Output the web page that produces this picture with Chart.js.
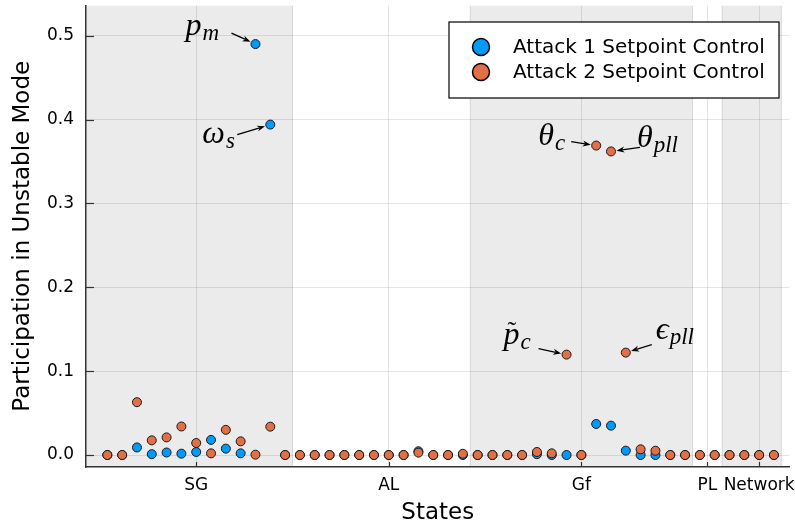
<!DOCTYPE html>
<html>
<head>
<meta charset="utf-8">
<script src="https://cdn.jsdelivr.net/npm/chart.js@4"></script>
<style>
  html, body { margin: 0; padding: 0; background: #fff; }
  #wrap { width: 795px; height: 527px; }
</style>
</head>
<body>
<div id="wrap"><canvas id="chart"></canvas></div>
<script>
// state groups along the x axis
const groupNames = ["SG", "AL", "Gf", "PL", "Network"];
const groupSizes = [13, 12, 15, 2, 4];
const groupTickPos = [7, 20, 33, 41.5, 45];
const shadedGroups = ["SG", "Gf", "Network"];

const yTicks = [0, 0.1, 0.2, 0.3, 0.4, 0.5];

// participation factor of each state (46 states)
const attack1 = [
  0, 0, 0.009, 0.001, 0.003, 0.0016, 0.0036, 0.018, 0.0076, 0.002, 0.490, 0.394, 0,
  0, 0, 0, 0, 0, 0, 0, 0, 0.0045, 0, 0, 0,
  0, 0, 0, 0, 0.001, 0, 0, 0, 0.037, 0.035, 0.0052, 0, 0, 0, 0,
  0, 0,
  0, 0, 0, 0
];
const attack2 = [
  0, 0, 0.063, 0.0175, 0.021, 0.034, 0.0143, 0.002, 0.030, 0.0163, 0.0004, 0.0338, 0,
  0, 0, 0, 0, 0, 0, 0, 0, 0.0028, 0, 0, 0.0015,
  0, 0, 0, 0, 0.0036, 0.002, 0.1197, 0, 0.369, 0.362, 0.1221, 0.0068, 0.0051, 0, 0,
  0, 0,
  0, 0, 0, 0
];

const seriesNames = ["Attack 1 Setpoint Control", "Attack 2 Setpoint Control"];
const seriesColors = ["#009AFA", "#E36F47"];

// labels pointing at single states: [series, state number, symbol, subscript]
const notes = [
  { series: 0, state: 11, main: "p", sub: "m", tx: -70, ty: -9, ax: -24, ay: -11 },
  { series: 0, state: 12, main: "ω", sub: "s", tx: -68, ty: 18, ax: -33, ay: 10 },
  { series: 1, state: 34, main: "θ", sub: "c", tx: -58, ty: -1, ax: -25, ay: -4 },
  { series: 1, state: 35, main: "θ", sub: "pll", tx: 26, ty: -4, ax: 29, ay: -4 },
  { series: 1, state: 32, main: "p", sub: "c", tilde: true, tx: -63, ty: -11, ax: -28, ay: -6 },
  { series: 1, state: 36, main: "ϵ", sub: "pll", tx: 30, ty: -14, ax: 26, ay: -8 }
];

const seriesData = [attack1, attack2];

// group boundaries
let bounds = [0.5];
groupSizes.forEach(function (n, i) {
  bounds.push(bounds[i] + n);
});

function toPoints(values) {
  return values.map((v, i) => ({ x: i + 1, y: v }));
}

const shadePlugin = {
  id: "shade",
  beforeDraw(chart) {
    const ctx = chart.ctx;
    const area = chart.chartArea;
    const xs = chart.scales.x;
    ctx.save();
    ctx.beginPath();
    ctx.rect(area.left, area.top, area.right - area.left, area.bottom - area.top);
    ctx.clip();
    groupNames.forEach(function (name, i) {
      if (!shadedGroups.includes(name)) return;
      let start = i === 0 ? xs.min - 1 : bounds[i];
      let x0 = xs.getPixelForValue(start);
      let x1 = xs.getPixelForValue(bounds[i + 1]);
      ctx.fillStyle = "#ebebeb";
      ctx.fillRect(x0, area.top, x1 - x0, area.bottom - area.top);
      ctx.strokeStyle = "rgba(0,0,0,0.12)";
      ctx.lineWidth = 1;
      ctx.beginPath();
      ctx.moveTo(x0, area.top);
      ctx.lineTo(x0, area.bottom);
      ctx.moveTo(x1, area.top);
      ctx.lineTo(x1, area.bottom);
      ctx.stroke();
    });
    ctx.restore();
  }
};

function drawArrow(ctx, x0, y0, x1, y1) {
  let ang = Math.atan2(y1 - y0, x1 - x0);
  let head = 8;
  ctx.beginPath();
  ctx.moveTo(x0, y0);
  ctx.lineTo(x1 - head * 0.7 * Math.cos(ang), y1 - head * 0.7 * Math.sin(ang));
  ctx.stroke();
  ctx.beginPath();
  ctx.moveTo(x1, y1);
  ctx.lineTo(x1 - head * Math.cos(ang) + 3 * Math.sin(ang), y1 - head * Math.sin(ang) - 3 * Math.cos(ang));
  ctx.lineTo(x1 - head * 0.7 * Math.cos(ang), y1 - head * 0.7 * Math.sin(ang));
  ctx.lineTo(x1 - head * Math.cos(ang) - 3 * Math.sin(ang), y1 - head * Math.sin(ang) + 3 * Math.cos(ang));
  ctx.closePath();
  ctx.fill();
}

const overlayPlugin = {
  id: "overlay",
  afterDraw(chart) {
    const ctx = chart.ctx;
    const area = chart.chartArea;
    const xs = chart.scales.x;
    const ys = chart.scales.y;
    ctx.save();

    // inward tick marks
    ctx.strokeStyle = "#333";
    ctx.lineWidth = 1.2;
    yTicks.forEach(function (v) {
      let py = Math.round(ys.getPixelForValue(v)) + 0.5;
      ctx.beginPath();
      ctx.moveTo(area.left, py);
      ctx.lineTo(area.left + 8, py);
      ctx.stroke();
    });
    groupTickPos.forEach(function (v) {
      let px = Math.round(xs.getPixelForValue(v)) + 0.5;
      ctx.beginPath();
      ctx.moveTo(px, area.bottom);
      ctx.lineTo(px, area.bottom - 5);
      ctx.stroke();
    });

    // annotations
    ctx.fillStyle = "#000";
    ctx.strokeStyle = "#000";
    ctx.lineWidth = 1.3;
    ctx.textBaseline = "alphabetic";
    ctx.textAlign = "left";
    notes.forEach(function (n) {
      let px = xs.getPixelForValue(n.state);
      let py = ys.getPixelForValue(seriesData[n.series][n.state - 1]);
      let tx = px + n.tx;
      let ty = py + n.ty;
      ctx.font = 'italic 32px "Liberation Serif", "DejaVu Serif", serif';
      ctx.fillText(n.main, tx, ty);
      let w = ctx.measureText(n.main).width;
      if (n.tilde) {
        ctx.font = '26px "Liberation Serif", "DejaVu Serif", serif';
        ctx.fillText("˜", tx + 4, ty - 5);
      }
      ctx.font = 'italic 23px "Liberation Serif", "DejaVu Serif", serif';
      ctx.fillText(n.sub, tx + w + 1, ty + 5);

      let sx = px + n.ax;
      let sy = py + n.ay;
      let d = Math.hypot(px - sx, py - sy);
      let ex = px - (px - sx) / d * 5.5;
      let ey = py - (py - sy) / d * 5.5;
      drawArrow(ctx, sx, sy, ex, ey);
    });

    // legend
    ctx.fillStyle = "#fff";
    ctx.fillRect(449, 22, 330, 76);
    ctx.strokeStyle = "#000";
    ctx.lineWidth = 1.2;
    ctx.strokeRect(449, 22, 330, 76);
    ctx.font = '20px "DejaVu Sans"';
    ctx.textBaseline = "middle";
    seriesNames.forEach(function (name, i) {
      let cy = 47 + i * 25;
      ctx.beginPath();
      ctx.arc(481, cy, 8.5, 0, Math.PI * 2);
      ctx.fillStyle = seriesColors[i];
      ctx.fill();
      ctx.lineWidth = 1.5;
      ctx.strokeStyle = "#000";
      ctx.stroke();
      ctx.fillStyle = "#000";
      ctx.fillText(name, 513, cy + 1);
    });
    ctx.restore();
  }
};

Chart.defaults.font.family = "DejaVu Sans";
Chart.defaults.color = "#000";

new Chart(document.getElementById("chart"), {
  type: "scatter",
  data: {
    datasets: seriesNames.map(function (name, i) {
      return {
        label: name,
        data: toPoints(seriesData[i]),
        backgroundColor: seriesColors[i],
        borderColor: "#1a1a1a",
        borderWidth: 1,
        pointRadius: 4.5,
        pointHoverRadius: 4.5,
        order: 2 - i
      };
    })
  },
  options: {
    responsive: true,
    maintainAspectRatio: false,
    animation: false,
    devicePixelRatio: 1,
    layout: { padding: { top: 5, right: 0, left: 0, bottom: 0 } },
    plugins: {
      legend: { display: false },
      tooltip: { enabled: false }
    },
    scales: {
      x: {
        type: "linear",
        min: -0.44,
        max: 47.05,
        afterFit(scale) {
          scale.height = 60;
          scale.paddingLeft = 0;
          scale.paddingRight = 0;
        },
        afterBuildTicks(scale) {
          scale.ticks = groupTickPos.map((v) => ({ value: v }));
        },
        ticks: {
          autoSkip: false,
          maxRotation: 0,
          padding: 8,
          font: { size: 17 },
          callback: function (v) {
            let i = groupTickPos.indexOf(v);
            return i >= 0 ? groupNames[i] : "";
          }
        },
        grid: { color: "rgba(0,0,0,0.1)", drawTicks: false },
        border: { display: true, color: "#333", width: 1.5 },
        title: {
          display: true,
          text: "States",
          font: { size: 23 },
          padding: { top: 0, bottom: 0 }
        }
      },
      y: {
        min: -0.0143,
        max: 0.536,
        afterFit(scale) {
          scale.width = 86;
          scale.paddingTop = 0;
          scale.paddingBottom = 0;
        },
        afterBuildTicks(scale) {
          scale.ticks = yTicks.map((v) => ({ value: v }));
        },
        ticks: {
          padding: 12,
          font: { size: 17 },
          callback: (v) => v.toFixed(1)
        },
        grid: { color: "rgba(0,0,0,0.1)", drawTicks: false },
        border: { display: true, color: "#333", width: 1.5 },
        title: {
          display: true,
          text: "Participation in Unstable Mode",
          font: { size: 23 },
          padding: { top: 9, bottom: 0 }
        }
      }
    }
  },
  plugins: [shadePlugin, overlayPlugin]
});
</script>
</body>
</html>
